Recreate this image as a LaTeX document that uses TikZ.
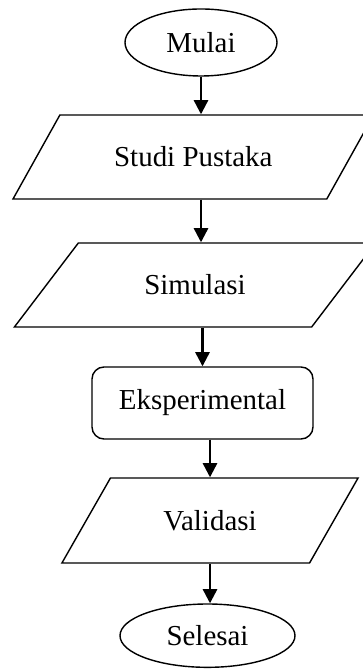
\documentclass[tikz,border=0pt]{standalone}
\usepackage{fontspec}
\setmainfont{Liberation Serif}
\usetikzlibrary{shapes.geometric,arrows.meta}

\begin{document}
\begin{tikzpicture}[
	terminal/.style={ellipse, draw, line width=1.2pt},
	masukan/.style={trapezium, trapezium stretches=true, draw, line width=1.2pt},
	proses/.style={rectangle, rounded corners=0.36cm, draw, line width=1.2pt},
	alur/.style={line width=2pt, -{Triangle[width=12pt, length=12pt]}},
	font=\fontsize{24.7}{30}\selectfont]

	\useasboundingbox (0, 0) rectangle (10.89, 20.07);

	\draw (6.03, 18.795) node (mulai) [terminal, minimum width=4.56cm, minimum height=2.01cm] {Mulai};

	\draw (5.8, 15.36) node (studi) [masukan, trapezium left angle=44, trapezium right angle=136, minimum width=10.85cm, minimum height=2.52cm] {Studi Pustaka};

	\draw (5.85, 11.52) node (simulasi) [masukan, trapezium left angle=43.3, trapezium right angle=136.7, minimum width=10.85cm, minimum height=2.52cm] {Simulasi};

	\draw (6.075, 7.98) node (eksp) [proses, minimum width=6.63cm, minimum height=2.16cm] {Eksperimental};

	\draw (6.3, 4.455) node (validasi) [masukan, trapezium left angle=49, trapezium right angle=131, minimum width=8.9cm, minimum height=2.55cm] {Validasi};

	\draw (6.225, 1.0) node (selesai) [terminal, minimum width=5.25cm, minimum height=1.9cm] {Selesai};

	\draw [alur] (mulai.south) -- (mulai.south |- studi.north);
	\draw [alur] (mulai.south |- studi.south) -- (mulai.south |- simulasi.north);
	\draw [alur] (eksp.north |- simulasi.south) -- (eksp.north);
	\draw [alur] (validasi.north |- eksp.south) -- (validasi.north);
	\draw [alur] (validasi.south) -- (validasi.south |- selesai.north);

\end{tikzpicture}
\end{document}
